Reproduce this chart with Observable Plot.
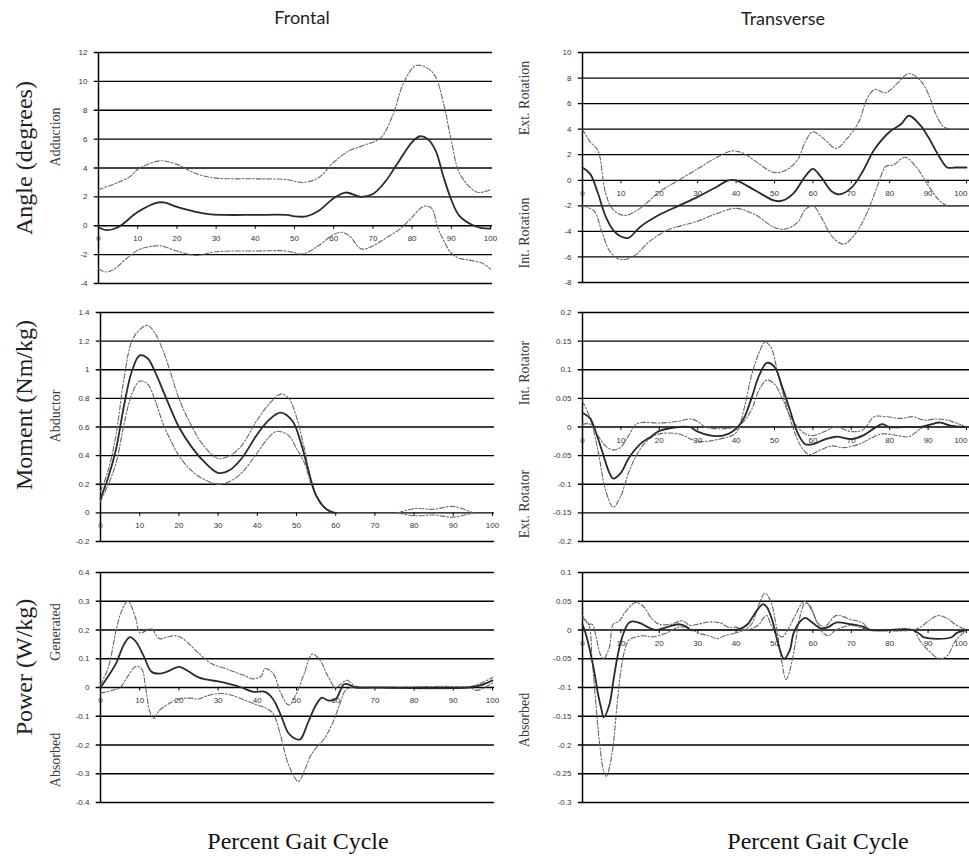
<!DOCTYPE html>
<html><head><meta charset="utf-8">
<script src="https://cdn.jsdelivr.net/npm/d3@7"></script>
<script src="https://cdn.jsdelivr.net/npm/@observablehq/plot@0.6"></script>
<style>
html,body{margin:0;padding:0;background:#fff;}
#fig{position:relative;width:969px;height:856px;overflow:hidden;background:#fff;}
#fig svg{position:absolute;overflow:visible;}
.lbl{position:absolute;white-space:nowrap;transform:translate(-50%,-50%);line-height:1;}
.rot{transform:translate(-50%,-50%) rotate(-90deg);}
.col{font-family:Lato,"Open Sans",sans-serif;font-size:18px;color:#222;}
.row{font-family:"Liberation Serif","Times New Roman",serif;font-size:24px;color:#222;}
.sub{font-family:"Liberation Serif","Times New Roman",serif;font-size:14px;color:#3a3a3a;}
.xt{font-family:"Liberation Serif","Times New Roman",serif;font-size:24px;color:#111;}
</style></head><body><div id="fig"></div><script>
// ---------- tick values ----------
const xTicks = [0,10,20,30,40,50,60,70,80,90,100];
const faTicks = [-4,-2,0,2,4,6,8,10,12];
const taTicks = [-8,-6,-4,-2,0,2,4,6,8,10];
const fmTicks = [-0.2,0,0.2,0.4,0.6,0.8,1,1.2,1.4];
const tmTicks = [-0.2,-0.15,-0.1,-0.05,0,0.05,0.1,0.15,0.2];
const fpTicks = [-0.4,-0.3,-0.2,-0.1,0,0.1,0.2,0.3,0.4];
const tpTicks = [-0.3,-0.25,-0.2,-0.15,-0.1,-0.05,0,0.05,0.1];

// ---------- Frontal angle ----------
const faMean = [[0,-0.1],[2,-0.3],[5,-0.1],[10,0.95],[15,1.6],[17,1.6],[20,1.3],[25,0.95],[28,0.8],[32,0.75],[40,0.75],[48,0.75],[50,0.65],[53,0.65],[56,1.0],[60,1.9],[63,2.3],[67,2.0],[70,2.2],[73,3.0],[76,4.2],[80,5.8],[82,6.2],[84,6.0],[86,5.2],[88,3.4],[90,1.8],[92,0.7],[95,0.1],[97.5,-0.15],[100,-0.2]];
const faUpper = [[0,2.5],[5,3.0],[8,3.4],[10,3.9],[13,4.3],[16,4.5],[20,4.25],[25,3.6],[30,3.3],[40,3.25],[48,3.2],[52,3.0],[56,3.3],[60,4.4],[64,5.2],[68,5.6],[72,6.1],[75,7.6],[78,10.0],[81,11.1],[84,10.9],[86,10.3],[88,8.5],[90,5.9],[92,3.7],[95,2.6],[97,2.3],[100,2.5]];
const faLower = [[0,-3.0],[2,-3.2],[4,-3.0],[7,-2.3],[10,-1.7],[13,-1.45],[16,-1.4],[20,-1.75],[25,-2.05],[30,-1.8],[40,-1.75],[48,-1.75],[52,-1.95],[56,-1.4],[60,-0.6],[62,-0.45],[64,-0.7],[67,-1.6],[70,-1.4],[73,-0.9],[77,-0.2],[80,0.6],[83,1.35],[85,1.2],[86.5,-0.1],[88,-1.0],[90,-1.9],[92,-2.25],[95,-2.4],[98,-2.6],[100,-3.0]];

// ---------- Transverse angle ----------
const taMean = [[0,1.0],[2,0.5],[4,-1.0],[6,-2.8],[8,-3.9],[10,-4.4],[12,-4.5],[15,-3.65],[20,-2.7],[25,-2.0],[30,-1.3],[35,-0.5],[38,0],[40,0],[45,-0.8],[50,-1.6],[52,-1.6],[55,-1.0],[58,0.3],[60,0.9],[62,0.3],[65,-0.9],[67,-1.1],[70,-0.6],[73,0.7],[76,2.4],[80,3.8],[83,4.4],[85,5.05],[88,4.3],[90,3.4],[93,1.8],[95,1.0],[97,1.0],[100,1.0]];
const taUpper = [[0,4.0],[2,3.0],[4,2.35],[6,-1.0],[8,-2.3],[11,-2.75],[14,-2.4],[17,-1.7],[20,-0.9],[25,0.0],[30,0.9],[35,1.8],[39,2.3],[42,2.1],[45,1.5],[50,0.6],[53,0.8],[56,1.6],[58,3.0],[60,3.8],[63,3.2],[66,2.5],[69,3.3],[72,4.6],[74,6.3],[76,7.1],[79,6.85],[82,7.6],[85,8.35],[88,7.8],[90,6.8],[92,5.2],[94,4.2],[96,4.0],[97,4.0]];
const taLower = [[0,-2.0],[3,-2.4],[5,-4.0],[7,-5.5],[9,-6.1],[11,-6.2],[14,-5.8],[17,-4.9],[20,-4.25],[23,-3.8],[30,-3.2],[35,-2.6],[40,-2.2],[45,-2.7],[50,-3.7],[53,-3.8],[56,-3.3],[58,-2.3],[60,-2.0],[62,-2.8],[65,-4.4],[68,-5.0],[71,-4.2],[74,-2.6],[77,-0.3],[79,1.1],[81,1.2],[84,1.8],[87,1.0],[90,-0.4],[93,-1.6],[95,-2.0],[98,-2.0]];

// ---------- Frontal moment ----------
const fmMean = [[0,0.1],[2,0.25],[4,0.45],[6,0.75],[8,0.99],[10,1.1],[12,1.08],[14,0.98],[16,0.85],[18,0.72],[20,0.6],[23,0.47],[26,0.37],[30,0.28],[33,0.3],[36,0.38],[40,0.55],[43,0.65],[46,0.7],[49,0.64],[51,0.5],[53,0.3],[55,0.12],[57,0.04],[59,0.005],[60,0]];
const fmUpper = [[0,0.15],[2,0.3],[4,0.55],[6,0.94],[8,1.2],[10,1.28],[12,1.31],[14,1.25],[16,1.13],[18,0.97],[20,0.8],[23,0.62],[26,0.48],[30,0.38],[33,0.4],[36,0.47],[40,0.65],[43,0.76],[46,0.83],[48,0.8],[50,0.67],[52,0.45],[54,0.2],[56,0.08],[58,0.02],[60,0]];
const fmLower = [[0,0.08],[2,0.2],[4,0.35],[6,0.62],[8,0.83],[10,0.92],[12,0.9],[14,0.78],[16,0.62],[18,0.5],[20,0.4],[23,0.3],[26,0.24],[30,0.2],[33,0.22],[36,0.28],[40,0.42],[43,0.53],[45,0.57],[48,0.54],[50,0.45],[52,0.35],[54,0.18],[56,0.08],[58,0.02],[60,0]];
const fmUpperTail = [[76,0],[80,0.03],[85,0.025],[90,0.045],[95,0]];
const fmLowerTail = [[76,0],[80,-0.02],[85,-0.015],[90,-0.03],[95,0]];

// ---------- Transverse moment ----------
const tmMean = [[0,0.025],[2,0.015],[3,0],[5,-0.04],[7,-0.08],[8,-0.09],[10,-0.08],[12,-0.055],[15,-0.03],[18,-0.016],[20,-0.007],[25,0],[28,0],[30,-0.008],[35,-0.016],[38,-0.012],[40,-0.003],[42,0.015],[44,0.05],[46,0.09],[48,0.112],[50,0.105],[52,0.07],[54,0.03],[56,-0.01],[58,-0.03],[60,-0.03],[63,-0.022],[66,-0.017],[70,-0.021],[73,-0.015],[76,-0.002],[78,0.005],[80,0],[85,0],[88,0],[91,0.005],[93,0.008],[96,0.002],[100,0]];
const tmBandA = [[0,0.045],[2,0.015],[4,-0.04],[6,-0.11],[8,-0.14],[10,-0.12],[12,-0.08],[14,-0.05],[16,-0.03],[18,-0.018],[20,-0.012],[25,-0.012],[30,-0.025],[35,-0.022],[40,-0.01],[42,0.03],[44,0.09],[46,0.13],[47.5,0.148],[49,0.14],[51,0.09],[53,0.04],[55,-0.005],[57,-0.035],[59,-0.048],[62,-0.04],[65,-0.033],[68,-0.036],[72,-0.03],[75,-0.02],[78,-0.012],[82,-0.015],[85,-0.017],[88,-0.003],[90,0.003],[93,0.007],[96,0.003],[100,0]];
const tmBandB = [[0,0.005],[2,0.005],[4,-0.015],[6,-0.033],[8,-0.04],[10,-0.035],[12,-0.015],[14,0.005],[16,0.008],[20,0.007],[25,0.01],[28,0.014],[30,0.01],[32,0],[36,-0.003],[40,0],[42,0.01],[44,0.03],[46,0.065],[48,0.082],[50,0.075],[52,0.05],[54,0.02],[56,0],[58,-0.012],[60,-0.015],[63,-0.008],[66,0],[70,-0.008],[73,-0.005],[76,0.018],[79,0.018],[83,0.015],[86,0.018],[89,0.012],[92,0.014],[95,0.012],[100,0]];

// ---------- Frontal power ----------
const fpMean = [[0,0],[2,0.04],[4,0.085],[6,0.15],[7.5,0.175],[9,0.16],[11,0.11],[13,0.055],[15,0.048],[17,0.055],[20,0.072],[22,0.06],[25,0.035],[27,0.028],[30,0.021],[33,0.012],[36,0],[39,-0.015],[42,-0.015],[44,-0.04],[46,-0.096],[48,-0.16],[50,-0.18],[51,-0.18],[53,-0.12],[55,-0.06],[56.5,-0.035],[58,-0.045],[60,-0.04],[62,0.01],[63,0.012],[65,0],[70,0],[94,0],[97,0.008],[100,0.025]];
const fpUpper = [[0,0.01],[2,0.07],[4,0.2],[5.5,0.27],[7,0.3],[9,0.24],[10,0.19],[12,0.2],[13,0.205],[15,0.17],[17,0.175],[19,0.18],[21,0.17],[25,0.12],[28,0.085],[32,0.065],[36,0.045],[39,0.03],[41,0.04],[42,0.066],[44,0.05],[46,-0.02],[48,-0.061],[50,-0.02],[52,0.05],[54,0.116],[56,0.095],[58,0.04],[60,0],[62,0.02],[63,0.025],[65,0.005],[70,0],[93,0],[97,0.015],[100,0.035]];
const fpLower = [[0,-0.02],[3,-0.01],[5,0],[7,0.04],[9,0.073],[10.5,0.065],[11.5,0],[12.5,-0.08],[13.5,-0.108],[15,-0.08],[17,-0.06],[20,-0.04],[23,-0.037],[25,-0.04],[27,-0.03],[30,-0.021],[33,-0.025],[37,-0.045],[40,-0.061],[42,-0.07],[44,-0.09],[46,-0.17],[47.5,-0.25],[49,-0.3],[50.5,-0.327],[52,-0.29],[53.5,-0.24],[55,-0.21],[57,-0.18],[59,-0.13],[61,-0.06],[62.5,-0.01],[64,0],[70,0],[94,0],[96,-0.01],[98,0],[100,0.015]];

// ---------- Transverse power ----------
const tpMean = [[0,0.01],[1,-0.01],[3,-0.07],[4,-0.11],[5,-0.14],[5.5,-0.152],[7,-0.13],[8,-0.09],[9,-0.05],[10,-0.02],[11,0],[12,0.012],[13,0.015],[15,0.012],[17,0.005],[19,0],[22,0.005],[25,0.01],[27,0.006],[28,0],[30,0],[38,0],[41,0.002],[43,0.01],[45,0.03],[47,0.045],[48,0.04],[49.5,0.015],[51,-0.025],[52.5,-0.05],[54,-0.035],[55,-0.005],[57,0.017],[58,0.021],[60,0.012],[62,0.003],[64,0.005],[66,0.013],[70,0.01],[73,0.006],[75,0],[86,0],[88,-0.008],[89,-0.013],[96,-0.013],[97.5,-0.005],[100,0]];
const tpBandA = [[0,0.02],[1.5,0.012],[2.5,-0.05],[3.5,-0.13],[4.5,-0.2],[5.5,-0.245],[6.3,-0.255],[7,-0.24],[8,-0.2],[9,-0.13],[10,-0.07],[11,-0.035],[12,-0.018],[14,-0.012],[16,-0.01],[18,-0.012],[22,-0.005],[25,0.005],[28,0.003],[30,-0.005],[33,-0.01],[35,-0.015],[37,-0.01],[40,-0.005],[42,0],[44,0.01],[46,0.045],[47.5,0.064],[49,0.05],[50.5,0.005],[52,-0.06],[53,-0.086],[54,-0.07],[55.5,-0.02],[56.5,0.02],[58,0.047],[59.5,0.04],[61,0.015],[63,0.005],[66,0.025],[70,0.018],[73,0.012],[75,0],[86,0],[88,-0.02],[90,-0.035],[93,-0.05],[95,-0.045],[97,-0.02],[100,0]];
const tpBandB = [[0,0.025],[1.5,0.01],[2.5,0.01],[3.5,-0.01],[4.5,-0.04],[5.5,-0.05],[7,-0.03],[8,0.01],[9.5,0.015],[11,0.03],[13,0.045],[14,0.048],[16,0.04],[18,0.02],[20,0.01],[23,0.01],[26,0.016],[28,0.008],[30,0.01],[33,0.014],[36,0.012],[38,0.005],[40,0.005],[42,0],[44,0.002],[46,0.01],[47,0.02],[48,0.025],[49,0.01],[50.5,-0.005],[52,-0.012],[53,-0.005],[55,0.02],[57,0.045],[58,0.05],[60,0.03],[62,0],[64,-0.01],[66,0],[70,0.008],[73,0.003],[75,0],[86,0],[88,0.005],[90,0.015],[92.5,0.025],[95,0.02],[97,0.01],[100,0]];

// ---------- labels ----------
const colTitles = [["Frontal",302,17],["Transverse",783,18]];
const rowTitles = [["Angle (degrees)",24,158],["Moment (Nm/kg)",24,405],["Power (W/kg)",24,667]];
const subTitles = [["Adduction",56,137],["Ext. Rotation",525,98],["Int. Rotation",525,233],["Abductor",56,416],["Int. Rotator",525,373],["Ext. Rotator",525,504],["Generated",56,632],["Absorbed",56,760],["Absorbed",525,720]];
const xTitles = [["Percent Gait Cycle",298,841],["Percent Gait Cycle",818,841]];

const fig = document.getElementById("fig");
const px = d => d[0], py = d => d[1];

function panel(p) {
  const ml = 40, mt = 12, mb = 20, mr = p.mr;
  const fw = p.right - p.left, fh = p.bottom - p.top;
  const span = p.yDomain[1] - p.yDomain[0];
  const tickLen = span / fh * 3.5;
  const inner = p.edge ? xTicks.slice(0, -1) : xTicks;
  const last = p.edge ? xTicks.slice(-1) : [];
  const chart = Plot.plot({
    width: fw + ml + mr, height: fh + mt + mb,
    marginLeft: ml, marginTop: mt, marginRight: mr, marginBottom: mb,
    x: {domain: [0, 100], axis: null},
    y: {domain: p.yDomain, axis: null},
    style: {fontFamily: "Liberation Sans, Arial, sans-serif", overflow: "visible", background: "transparent"},
    marks: [
      Plot.ruleY(p.yTicks, {x1: -1.1, x2: p.gridEnd, stroke: "#000", strokeWidth: 1.3}),
      Plot.ruleX([0], {y1: p.yDomain[0], y2: p.yDomain[1], stroke: "#000", strokeWidth: 1.5}),
      Plot.ruleX(xTicks.slice(1), {y1: 0, y2: -tickLen, stroke: "#000", strokeWidth: 1}),
      Plot.text(p.yTicks, {x: 0, y: d => d, text: d => String(d), textAnchor: "end", dx: -11, fontSize: 8, fill: "#333"}),
      Plot.text(inner, {x: d => d, y: 0, text: d => String(d), dy: 13, fontSize: 8, fill: "#334"}),
      Plot.text(last, {x: d => d, y: 0, text: d => String(d), dy: 13, textAnchor: "end", dx: 1, fontSize: 8, fill: "#334"}),
      ...p.bands.map(b => Plot.line(b, {x: px, y: py, curve: "catmull-rom", stroke: "#666", strokeWidth: 1.1, strokeDasharray: "5,2,1.5,2"})),
      Plot.line(p.mean, {x: px, y: py, curve: "catmull-rom", stroke: "#2a2a2a", strokeWidth: 1.8})
    ]
  });
  chart.style.left = (p.left - ml) + "px";
  chart.style.top = (p.top - mt) + "px";
  fig.appendChild(chart);
}

const L = {left: 98, right: 490, mr: 12, gridEnd: 100.5, edge: false};
const R = {left: 582, right: 966, mr: 3, gridEnd: 100.8, edge: true};
panel({...L, top: 52, bottom: 283, yDomain: [-4, 12], yTicks: faTicks, mean: faMean, bands: [faUpper, faLower]});
panel({...R, top: 52, bottom: 282, yDomain: [-8, 10], yTicks: taTicks, mean: taMean, bands: [taUpper, taLower]});
panel({...L, left: 100, right: 492, top: 312, bottom: 541, yDomain: [-0.2, 1.4], yTicks: fmTicks, mean: fmMean, bands: [fmUpper, fmLower, fmUpperTail, fmLowerTail]});
panel({...R, top: 312, bottom: 541, yDomain: [-0.2, 0.2], yTicks: tmTicks, mean: tmMean, bands: [tmBandA, tmBandB]});
panel({...L, left: 100, right: 492, top: 572, bottom: 802, yDomain: [-0.4, 0.4], yTicks: fpTicks, mean: fpMean, bands: [fpUpper, fpLower]});
panel({...R, top: 572, bottom: 802, yDomain: [-0.3, 0.1], yTicks: tpTicks, mean: tpMean, bands: [tpBandA, tpBandB]});

function addLabel(cls, [t, x, y], rot) {
  const d = document.createElement("div");
  d.className = "lbl " + cls + (rot ? " rot" : "");
  d.textContent = t;
  d.style.left = x + "px";
  d.style.top = y + "px";
  fig.appendChild(d);
}
colTitles.forEach(c => addLabel("col", c, false));
rowTitles.forEach(c => addLabel("row", c, true));
subTitles.forEach(c => addLabel("sub", c, true));
xTitles.forEach(c => addLabel("xt", c, false));
</script></body></html>
